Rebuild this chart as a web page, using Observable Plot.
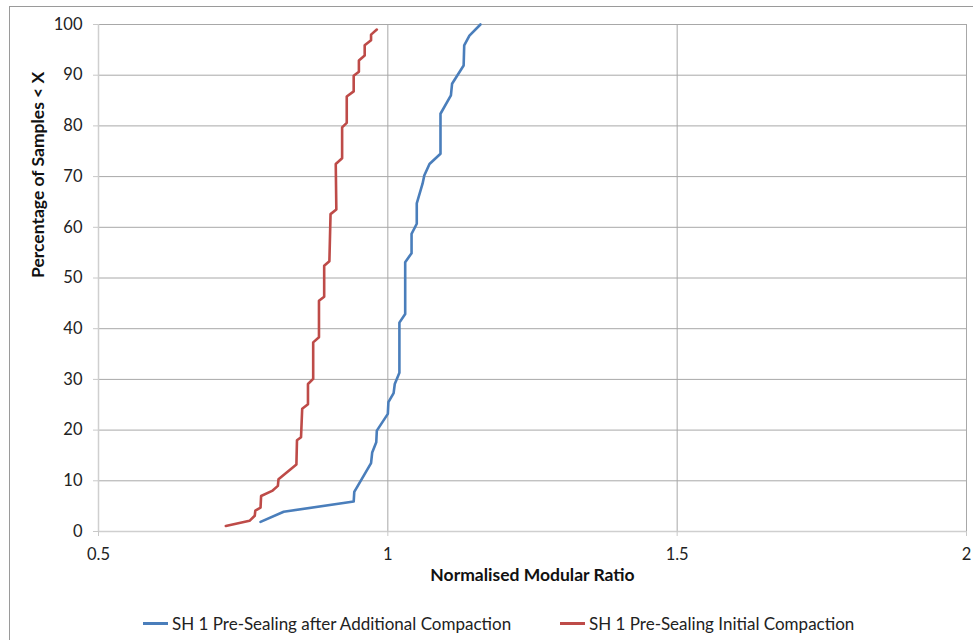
<!DOCTYPE html>
<html>
<head>
<meta charset="utf-8">
<script src="https://cdn.jsdelivr.net/npm/d3@7"></script>
<script src="https://cdn.jsdelivr.net/npm/@observablehq/plot@0.6"></script>
<style>
  html, body { margin: 0; padding: 0; background: #fff; overflow: hidden; }
  #wrap { position: relative; width: 973px; height: 640px; font-family: Lato, "Open Sans", sans-serif; }
  #frame { position: absolute; left: 9px; top: 6px; width: 980px; height: 700px; border: 1px solid #9a9a9a; box-sizing: border-box; pointer-events: none; }
  #legend { position: absolute; left: 0; top: 605px; width: 973px; height: 36px; font-size: 17px; color: #222; }
  .item { position: absolute; top: 0; height: 36px; display: flex; align-items: center; }
  .sw { width: 25px; height: 3px; margin-right: 4px; }
</style>
</head>
<body>
<div id="wrap">
  <div id="chart"></div>
  <div id="legend"></div>
  <div id="frame"></div>
</div>
<script>
// Series: SH 1 Pre-Sealing after Additional Compaction (blue)
const blueX = [0.780, 0.820, 0.941, 0.942, 0.971, 0.973, 0.980, 0.981, 1.000, 1.001, 1.010, 1.012, 1.020, 1.020, 1.030, 1.030, 1.041, 1.041, 1.050, 1.050, 1.060, 1.063, 1.072, 1.091, 1.091, 1.109, 1.111, 1.131, 1.132, 1.141, 1.160];
const blueY = [1.9, 3.9, 5.9, 7.8, 13.5, 15.6, 17.6, 19.9, 23.2, 25.5, 27.3, 29.1, 31.3, 41.2, 42.9, 53.1, 54.9, 58.7, 60.7, 64.7, 68.6, 70.2, 72.5, 74.5, 82.4, 86.0, 88.3, 91.9, 95.9, 97.8, 100.0];
// Series: SH 1 Pre-Sealing Initial Compaction (red)
const redX = [0.720, 0.761, 0.770, 0.771, 0.780, 0.781, 0.800, 0.810, 0.811, 0.842, 0.843, 0.850, 0.852, 0.862, 0.862, 0.871, 0.871, 0.881, 0.881, 0.890, 0.890, 0.899, 0.901, 0.911, 0.910, 0.921, 0.921, 0.929, 0.929, 0.941, 0.941, 0.950, 0.950, 0.960, 0.960, 0.971, 0.971, 0.981];
const redY = [1.1, 2.1, 3.1, 4.1, 4.7, 7.0, 8.0, 9.0, 10.3, 13.2, 18.0, 18.6, 24.2, 25.1, 29.1, 30.1, 37.3, 38.3, 45.5, 46.3, 52.4, 53.3, 62.6, 63.5, 72.5, 73.6, 79.7, 80.6, 85.8, 86.8, 89.9, 90.7, 92.9, 93.9, 95.9, 96.9, 98.0, 99.0];

const seriesNames = ["SH 1 Pre-Sealing after Additional Compaction", "SH 1 Pre-Sealing Initial Compaction"];
const seriesColors = ["#4a7ebb", "#be4b48"];
const xTicks = [0.5, 1, 1.5, 2];
const yTicks = [0, 10, 20, 30, 40, 50, 60, 70, 80, 90, 100];
const xTitle = "Normalised Modular Ratio";
const yTitle = "Percentage of Samples < X";

const rows = [
  ...blueX.map((x, i) => ({x, y: blueY[i], s: seriesNames[0]})),
  ...redX.map((x, i) => ({x, y: redY[i], s: seriesNames[1]}))
];

const chart = Plot.plot({
  width: 973,
  height: 605,
  marginLeft: 98,
  marginRight: 7,
  marginTop: 24,
  marginBottom: 74,
  style: {fontFamily: "Lato, 'Open Sans', sans-serif", fontSize: "16.5px", color: "#222", background: "#fff"},
  x: {domain: [0.5, 2], label: null},
  y: {domain: [0, 100], label: null},
  color: {domain: seriesNames, range: seriesColors},
  marks: [
    Plot.gridX(xTicks, {stroke: "#a8a8a8", strokeOpacity: 1}),
    Plot.gridY(yTicks, {stroke: "#a8a8a8", strokeOpacity: 1}),
    Plot.ruleX([0.5], {stroke: "#cfcfcf", strokeWidth: 1.5}),
    Plot.ruleY([0], {stroke: "#cfcfcf", strokeWidth: 1.5}),
    Plot.axisX(xTicks, {tickSize: 5, tickPadding: 12, stroke: "#c8c8c8", fill: "#222", tickFormat: d => String(d), label: null}),
    Plot.axisY(yTicks, {tickSize: 5, tickPadding: 11, stroke: "#c8c8c8", fill: "#222", tickFormat: d => String(d), label: null}),
    Plot.line(rows, {x: "x", y: "y", z: "s", stroke: "s", strokeWidth: 2.6}),
    Plot.text([xTitle], {frameAnchor: "bottom", dy: 49, fontWeight: "bold", fontSize: 17.5, fill: "#111"}),
    Plot.text([yTitle], {frameAnchor: "left", dx: -60, rotate: -90, fontWeight: "bold", fontSize: 17.5, fill: "#111"})
  ]
});
document.getElementById("chart").appendChild(chart);

const legend = document.getElementById("legend");
const lefts = [143, 560];
seriesNames.forEach((name, i) => {
  const item = document.createElement("div");
  item.className = "item";
  item.style.left = lefts[i] + "px";
  const sw = document.createElement("span");
  sw.className = "sw";
  sw.style.background = seriesColors[i];
  const t = document.createElement("span");
  t.textContent = name;
  item.appendChild(sw);
  item.appendChild(t);
  legend.appendChild(item);
});
</script>
</body>
</html>
